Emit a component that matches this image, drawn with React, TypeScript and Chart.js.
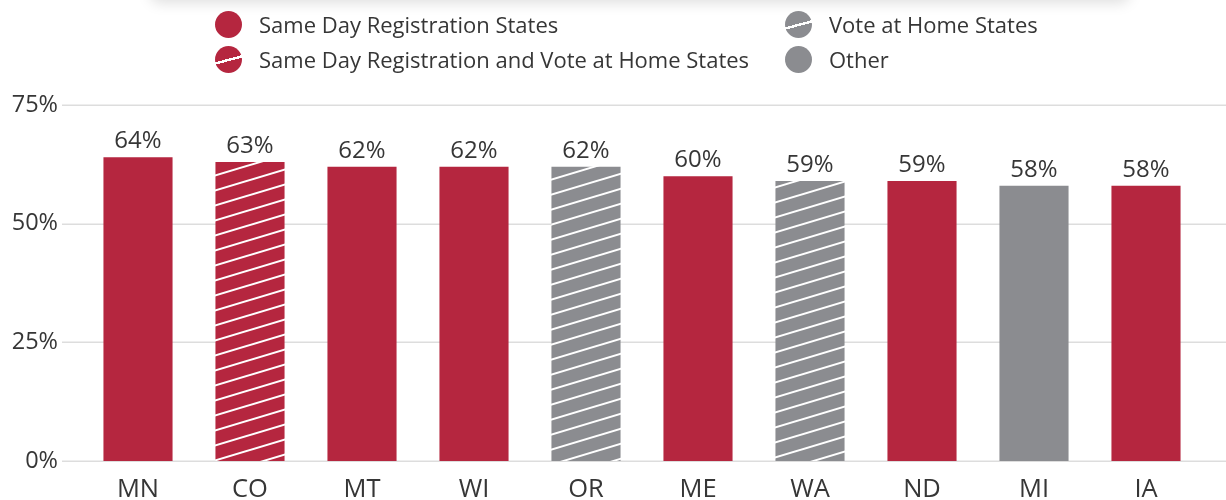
import React, { useEffect, useRef } from "react";
import { Chart, registerables } from "chart.js";

Chart.register(...registerables);

const categories = ["MN", "CO", "MT", "WI", "OR", "ME", "WA", "ND", "MI", "IA"];
const turnout = [64, 63, 62, 62, 62, 60, 59, 59, 58, 58];
const stateTypes = ["sdr", "sdrHome", "sdr", "sdr", "home", "sdr", "home", "sdr", "other", "sdr"];
const yTicks = [0, 25, 50, 75];
const legendLabels = [
  "Same Day Registration States",
  "Same Day Registration and Vote at Home States",
  "Vote at Home States",
  "Other",
];
const legendTypes = ["sdr", "sdrHome", "home", "other"];

const RED = "#B5263F";
const GRAY = "#8B8C90";
const TEXT = "#363636";
const FONT = "'Open Sans', sans-serif";

const baseColor = (t: string) => (t === "sdr" || t === "sdrHome" ? RED : GRAY);
const isStriped = (t: string) => t === "sdrHome" || t === "home";

function makeStripe(color: string): CanvasPattern | string {
  const c = document.createElement("canvas");
  c.width = 50;
  c.height = 15;
  const g = c.getContext("2d");
  if (!g) return color;
  g.fillStyle = color;
  g.fillRect(0, 0, 50, 15);
  g.strokeStyle = "#ffffff";
  g.lineWidth = 2;
  for (const k of [-1, 0, 1]) {
    g.beginPath();
    g.moveTo(-5, 16.5 + 15 * k);
    g.lineTo(55, -1.5 + 15 * k);
    g.stroke();
  }
  const p = g.createPattern(c, "repeat");
  return p || color;
}

function LegendDot({ type }: { type: string }) {
  const c = baseColor(type);
  const bg = isStriped(type)
    ? `linear-gradient(165deg, ${c} 0%, ${c} 47.5%, #ffffff 47.5%, #ffffff 55%, ${c} 55%, ${c} 100%)`
    : c;
  return (
    <div
      style={{
        width: 27,
        height: 27,
        borderRadius: "50%",
        background: bg,
        flex: "0 0 auto",
      }}
    />
  );
}

export default function App() {
  const ref = useRef<HTMLCanvasElement>(null);

  useEffect(() => {
    if (!ref.current) return;
    const bgColors = stateTypes.map((t) =>
      isStriped(t) ? makeStripe(baseColor(t)) : baseColor(t)
    );

    const gridPlugin = {
      id: "customGrid",
      beforeDatasetsDraw(chart: any) {
        const { ctx } = chart;
        const y = chart.scales.y;
        ctx.save();
        ctx.strokeStyle = "#dddddd";
        ctx.lineWidth = 1.5;
        yTicks.forEach((v) => {
          const py = Math.round(y.getPixelForValue(v)) + 0.25;
          ctx.beginPath();
          ctx.moveTo(62, py);
          ctx.lineTo(chart.width, py);
          ctx.stroke();
        });
        ctx.restore();
      },
    };

    const labelPlugin = {
      id: "valueLabels",
      afterDatasetsDraw(chart: any) {
        const { ctx } = chart;
        const meta = chart.getDatasetMeta(0);
        ctx.save();
        ctx.font = `24px ${FONT}`;
        ctx.fillStyle = TEXT;
        ctx.textAlign = "center";
        ctx.textBaseline = "alphabetic";
        meta.data.forEach((bar: any, i: number) => {
          ctx.fillText(turnout[i] + "%", bar.x, bar.y - 9);
        });
        ctx.restore();
      },
    };

    const chart = new Chart(ref.current, {
      type: "bar",
      data: {
        labels: categories,
        datasets: [
          {
            data: turnout,
            backgroundColor: bgColors as any,
            borderWidth: 0,
            barPercentage: 0.617,
            categoryPercentage: 1,
          },
        ],
      },
      options: {
        responsive: false,
        animation: false,
        layout: { padding: { left: 0, right: 24, top: 105, bottom: 0 } },
        plugins: { legend: { display: false }, tooltip: { enabled: false } },
        scales: {
          x: {
            grid: { display: false, drawTicks: false },
            border: { display: false },
            ticks: {
              color: TEXT,
              font: { family: FONT, size: 25.5 },
              padding: 13,
            },
            afterFit: (s: any) => {
              s.height = 39;
            },
          },
          y: {
            min: 0,
            max: 75,
            grid: { display: false, drawTicks: false },
            border: { display: false },
            ticks: {
              stepSize: 25,
              color: TEXT,
              font: { family: FONT, size: 23.5 },
              padding: 24,
              callback: (v: any) => v + "%",
            },
            afterFit: (s: any) => {
              s.width = 82;
            },
          },
        },
      },
      plugins: [gridPlugin, labelPlugin],
    });
    return () => chart.destroy();
  }, []);

  const textStyle: React.CSSProperties = {
    fontFamily: FONT,
    fontSize: 22,
    color: TEXT,
    whiteSpace: "nowrap",
    marginLeft: 17,
  };

  const item = (i: number, left: number, top: number) => (
    <div
      key={i}
      style={{
        position: "absolute",
        left,
        top,
        height: 28,
        display: "flex",
        alignItems: "center",
      }}
    >
      <LegendDot type={legendTypes[i]} />
      <span style={textStyle}>{legendLabels[i]}</span>
    </div>
  );

  return (
    <div
      style={{
        position: "absolute",
        left: 0,
        top: 0,
        width: 1226,
        height: 500,
        overflow: "hidden",
        background: "#fff",
      }}
    >
      <div
        style={{
          position: "absolute",
          left: 150,
          top: -40,
          width: 980,
          height: 40,
          boxShadow: "0 3px 14px rgba(0,0,0,0.13)",
          borderRadius: 10,
          background: "#fff",
        }}
      />
      <canvas ref={ref} width={1226} height={500} style={{ position: "absolute", left: 0, top: 0 }} />
      {item(0, 215, 10)}
      {item(1, 215, 45)}
      {item(2, 785, 10)}
      {item(3, 785, 45)}
    </div>
  );
}
